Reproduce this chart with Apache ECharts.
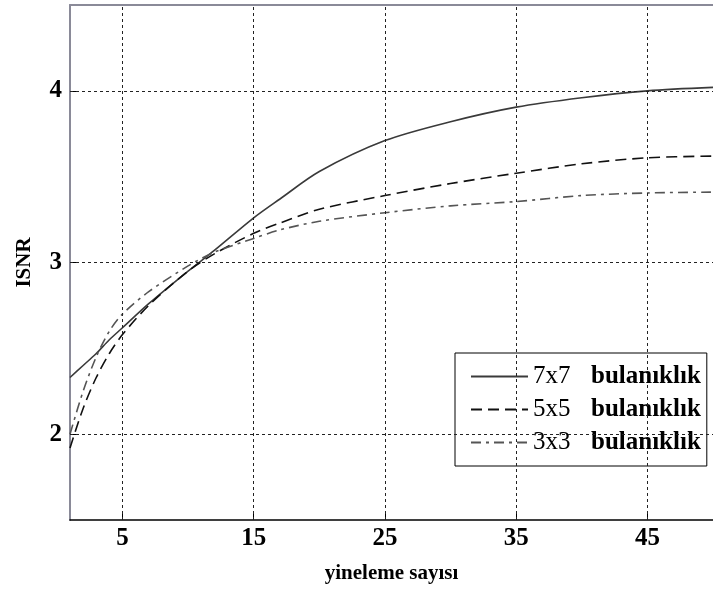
<!DOCTYPE html>
<html>
<head>
<meta charset="utf-8">
<script src="https://cdn.jsdelivr.net/npm/echarts@6/dist/echarts.min.js"></script>
<style>
  html, body { margin: 0; padding: 0; background: #fff; }
  #chart { width: 713px; height: 591px; }
</style>
</head>
<body>
<div id="chart"></div>
<script>
// Iteration counts where ISNR was sampled
const iterations = [1, 2, 3, 4, 5, 7, 10, 12, 15, 17, 20, 25, 30, 35, 40, 45, 50];

// ISNR (dB) per blur kernel size
const isnr7x7 = [2.33, 2.40, 2.47, 2.55, 2.62, 2.76, 2.95, 3.07, 3.26, 3.37, 3.53, 3.71, 3.82, 3.905, 3.96, 4.00, 4.02];
const isnr5x5 = [1.92, 2.15, 2.33, 2.47, 2.58, 2.75, 2.95, 3.05, 3.17, 3.23, 3.31, 3.39, 3.46, 3.52, 3.575, 3.61, 3.62];
const isnr3x3 = [2.00, 2.25, 2.45, 2.60, 2.70, 2.83, 2.98, 3.06, 3.14, 3.19, 3.24, 3.29, 3.33, 3.355, 3.39, 3.405, 3.41];

const seriesNames = ['7x7 bulanıklık', '5x5 bulanıklık', '3x3 bulanıklık'];

// Tick positions
const xTicks = [5, 15, 25, 35, 45];
const yTicks = [2, 3, 4];

const serif = '"Liberation Serif", "DejaVu Serif", serif';

function pairs(xs, ys) {
  return xs.map((x, i) => [x, ys[i]]);
}

const gridLineStyle = { color: '#222', width: 1, type: [3, 3] };

const chart = echarts.init(document.getElementById('chart'));
chart.setOption({
  animation: false,
  backgroundColor: '#fff',
  grid: { left: 70, top: 5, width: 653, bottom: 71, containLabel: false },
  legend: {
    orient: 'vertical',
    left: 455,
    top: 353,
    backgroundColor: '#fff',
    borderColor: '#000',
    borderWidth: 1,
    borderRadius: 0,
    padding: [11, 6, 11, 15],
    itemWidth: 57,
    itemHeight: 14,
    itemGap: 8,
    itemStyle: { opacity: 0 },
    data: seriesNames,
    formatter: function (name) {
      const parts = name.split(' ');
      return '{a|' + parts[0] + '}{b|' + parts[1] + '}';
    },
    textStyle: {
      rich: {
        a: { fontFamily: serif, fontSize: 25, lineHeight: 22, color: '#000', width: 58 },
        b: { fontFamily: serif, fontSize: 25, lineHeight: 22, fontWeight: 'bold', color: '#000' }
      }
    }
  },
  xAxis: [
    {
      type: 'value',
      min: 1,
      max: 50,
      name: 'yineleme sayısı',
      nameLocation: 'middle',
      nameGap: 43,
      nameTextStyle: { fontFamily: serif, fontSize: 21, fontWeight: 'bold', color: '#000' },
      axisLine: { lineStyle: { color: '#000', width: 1.5 } },
      axisTick: { inside: true, length: 6, customValues: xTicks, lineStyle: { color: '#000' } },
      axisLabel: {
        customValues: xTicks,
        margin: 6,
        fontFamily: serif,
        fontSize: 25,
        fontWeight: 'bold',
        color: '#000'
      },
      splitLine: { show: false }
    },
    {
      type: 'value',
      position: 'top',
      min: 1,
      max: 50,
      axisLine: { show: true, lineStyle: { color: '#8a8a98', width: 2 } },
      axisTick: { show: false },
      axisLabel: { show: false },
      splitLine: { show: false }
    }
  ],
  yAxis: {
    type: 'value',
    min: 1.5,
    max: 4.5,
    name: 'ISNR',
    nameLocation: 'middle',
    nameGap: 35,
    nameRotate: 90,
    nameTextStyle: { fontFamily: serif, fontSize: 21, fontWeight: 'bold', color: '#000' },
    axisLine: { show: true, lineStyle: { color: '#8a8a98', width: 2 } },
    axisTick: { inside: true, length: 6, customValues: yTicks, lineStyle: { color: '#000' } },
    axisLabel: {
      customValues: yTicks,
      margin: 8,
      fontFamily: serif,
      fontSize: 25,
      fontWeight: 'bold',
      color: '#000'
    },
    splitLine: { show: false }
  },
  series: [
    {
      // dotted grid
      type: 'line',
      data: [],
      silent: true,
      z: 1,
      markLine: {
        silent: true,
        symbol: 'none',
        label: { show: false },
        lineStyle: gridLineStyle,
        data: xTicks.map(v => ({ xAxis: v })).concat(yTicks.map(v => ({ yAxis: v })))
      }
    },
    {
      name: seriesNames[0],
      type: 'line',
      data: pairs(iterations, isnr7x7),
      smooth: 0.3,
      symbol: 'none',
      z: 3,
      lineStyle: { color: '#3a3a3a', width: 1.6, type: 'solid' },
      itemStyle: { color: '#3a3a3a' }
    },
    {
      name: seriesNames[1],
      type: 'line',
      data: pairs(iterations, isnr5x5),
      smooth: 0.3,
      symbol: 'none',
      z: 3,
      lineStyle: { color: '#111', width: 1.6, type: [11, 6] },
      itemStyle: { color: '#111' }
    },
    {
      name: seriesNames[2],
      type: 'line',
      data: pairs(iterations, isnr3x3),
      smooth: 0.3,
      symbol: 'none',
      z: 3,
      lineStyle: { color: '#555', width: 1.6, type: [10, 5, 3, 5] },
      itemStyle: { color: '#555' }
    }
  ]
});
</script>
</body>
</html>
